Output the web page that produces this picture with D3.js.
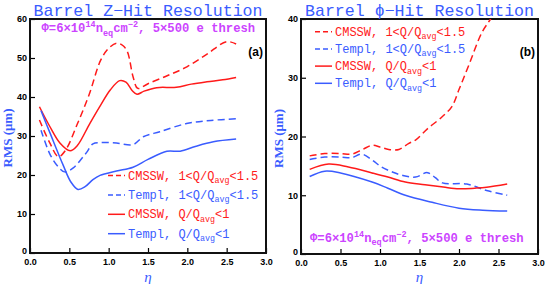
<!DOCTYPE html>
<html>
<head>
<meta charset="utf-8">
<script src="https://cdn.jsdelivr.net/npm/d3@7"></script>
<style>
  body { margin: 0; background: #fff; }
</style>
</head>
<body>
<div id="container"></div>
<script>
// chart size
const width = 545;
const height = 284;

const red = "#ff1a1a";
const blue = "#3a5cff";
const magenta = "#cc44ff";

// Left panel: Z-hit resolution
const etaZ_cmsswHi = [0.12, 0.25, 0.36, 0.45, 0.6, 0.75, 0.9, 1.0, 1.1, 1.18, 1.24, 1.31, 1.37, 1.5, 1.75, 2.0, 2.25, 2.5, 2.62];
const rmsZ_cmsswHi = [34.1, 28.3, 24.7, 26.3, 33, 40.5, 49.5, 52.5, 53.8, 53.2, 51.5, 45.2, 42.2, 43.4, 45.5, 47.8, 51, 54.2, 53.6];
const etaZ_templHi = [0.14, 0.25, 0.35, 0.44, 0.55, 0.64, 0.72, 0.8, 0.9, 1.1, 1.31, 1.44, 1.65, 1.99, 2.3, 2.62];
const rmsZ_templHi = [31.5, 25.5, 22.3, 20.8, 21.8, 23.8, 25.8, 28, 28.3, 28.2, 27.8, 29.8, 31.1, 33.2, 34.0, 34.4];
const etaZ_cmsswLo = [0.12, 0.25, 0.38, 0.51, 0.6, 0.76, 0.9, 1.02, 1.14, 1.22, 1.3, 1.36, 1.45, 1.61, 1.86, 2.05, 2.25, 2.45, 2.62];
const rmsZ_cmsswLo = [37.5, 32.5, 28.2, 26.2, 27.5, 33.2, 38, 41.8, 44.2, 43.8, 41.6, 40.7, 41.5, 42.4, 42.5, 43.3, 43.9, 44.4, 45.0];
const etaZ_templLo = [0.14, 0.25, 0.42, 0.52, 0.61, 0.7, 0.8, 0.89, 1.1, 1.31, 1.5, 1.74, 1.91, 2.1, 2.33, 2.62];
const rmsZ_templLo = [36.5, 31, 22.6, 18.2, 16.3, 17, 18.8, 19.9, 21, 22, 24, 26.1, 26.1, 27.3, 28.5, 29.2];

// Right panel: phi-hit resolution
const etaP_cmsswHi = [0.11, 0.3, 0.5, 0.64, 0.78, 0.9, 1.0, 1.11, 1.24, 1.36, 1.45, 1.6, 1.79, 1.91, 2.0, 2.12, 2.29, 2.4, 2.62];
const rmsP_cmsswHi = [16.7, 17.1, 17.1, 17.0, 17.8, 18.5, 18.2, 17.8, 17.8, 18.8, 19.4, 21.3, 23.4, 25.1, 28, 32, 37.7, 40, 45];
const etaP_templHi = [0.11, 0.3, 0.5, 0.64, 0.77, 0.9, 1.02, 1.15, 1.28, 1.45, 1.6, 1.7, 1.79, 2.1, 2.35, 2.61];
const rmsP_templHi = [16.1, 16.5, 16.5, 16.4, 17.0, 16.0, 14.8, 14.0, 13.4, 13.1, 13.85, 13.0, 12.1, 11.9, 10.8, 10.0];
const etaP_cmsswLo = [0.11, 0.35, 0.6, 0.9, 1.1, 1.32, 1.57, 1.8, 2.0, 2.2, 2.35, 2.61];
const rmsP_cmsswLo = [14.4, 15.3, 14.8, 13.8, 13.1, 12.25, 11.8, 11.4, 11.1, 11.2, 11.35, 11.9];
const etaP_templLo = [0.11, 0.3, 0.5, 0.9, 1.1, 1.32, 1.66, 2.0, 2.3, 2.61];
const rmsP_templLo = [13.2, 14.1, 13.8, 12.25, 11.2, 10.0, 8.8, 7.8, 7.45, 7.3];

const xTicks = [0, 0.5, 1.0, 1.5, 2.0, 2.5, 3.0];
const yTicksZ = [0, 10, 20, 30, 40, 50, 60];
const yTicksP = [0, 10, 20, 30, 40];

const svg = d3.select("#container")
    .append("svg")
    .attr("width", width)
    .attr("height", height);

const mono = "'Liberation Mono', 'DejaVu Sans Mono', monospace";

// writes text with sub/superscripts
function richText(g, parts) {
  parts.forEach(p => {
    const t = g.append("tspan").text(p.t);
    if (p.sub) t.attr("dy", 3.5).attr("font-size", "0.7em");
    if (p.sup) t.attr("dy", -5).attr("font-size", "0.7em");
    if (p.back) t.attr("dy", p.back);
  });
}

function legendParts(name, hi) {
  return hi
    ? [{t: name + ", 1<Q/Q"}, {t: "avg", sub: true}, {t: "<1.5", back: -3.5}]
    : [{t: name + ", Q/Q"}, {t: "avg", sub: true}, {t: "<1", back: -3.5}];
}

const fluence = [{t: "\u03A6=6\u00D710"}, {t: "14", sup: true}, {t: "n", back: 5},
                 {t: "eq", sub: true}, {t: "cm", back: -3.5}, {t: "\u22122", sup: true},
                 {t: ", 5\u00D7500 e thresh", back: 5}];

function panel(cfg) {
  const x = d3.scaleLinear().domain([0, 3]).range([cfg.x0, cfg.x1]);
  const y = d3.scaleLinear().domain([0, cfg.ymax]).range([cfg.y0, cfg.y1]);
  const g = svg.append("g");

  g.append("clipPath").attr("id", cfg.id + "clip")
    .append("rect")
    .attr("x", cfg.x0).attr("y", cfg.y1)
    .attr("width", cfg.x1 - cfg.x0).attr("height", cfg.y0 - cfg.y1);

  // axes (ticks inside)
  const ax = g.append("g").attr("transform", `translate(0,${cfg.y0})`);
  ax.call(d3.axisBottom(x).tickValues(d3.range(0, 3.01, 0.1)).tickSize(-2.5).tickFormat(""));
  ax.call(d3.axisBottom(x).tickValues(xTicks).tickSize(-5).tickPadding(3).tickFormat(d3.format(".1f")));
  const ay = g.append("g").attr("transform", `translate(${cfg.x0},0)`);
  ay.call(d3.axisLeft(y).tickValues(d3.range(0, cfg.ymax + 0.1, 2)).tickSize(-2.5).tickFormat(""));
  ay.call(d3.axisLeft(y).tickValues(cfg.yTicks).tickSize(-5).tickPadding(3));
  g.selectAll(".domain").remove();
  g.selectAll(".tick line").attr("stroke", "#000").attr("stroke-width", 1.2);
  g.selectAll(".tick text")
    .attr("font-family", "'Liberation Sans', Arial, sans-serif")
    .attr("font-weight", "bold").attr("font-size", 9).attr("fill", "#000");
  ax.selectAll(".tick text").attr("dy", "0.95em");
  ay.selectAll(".tick text").filter(d => d === 0).attr("dy", "0.1em");

  g.append("rect")
    .attr("x", cfg.x0).attr("y", cfg.y1)
    .attr("width", cfg.x1 - cfg.x0).attr("height", cfg.y0 - cfg.y1)
    .attr("fill", "none").attr("stroke", "#111").attr("stroke-width", 2);

  // curves
  const line = d3.line().x(d => x(d[0])).y(d => y(d[1])).curve(d3.curveCatmullRom.alpha(0.5));
  cfg.series.forEach(s => {
    g.append("path")
      .datum(d3.zip(s.eta, s.rms))
      .attr("clip-path", `url(#${cfg.id}clip)`)
      .attr("d", line)
      .attr("fill", "none")
      .attr("stroke", s.color)
      .attr("stroke-width", 1.5)
      .attr("stroke-dasharray", s.dash ? "7,4" : null);
  });

  // legend
  cfg.series.forEach((s, i) => {
    const ly = cfg.legY + i * cfg.legStep;
    g.append("line")
      .attr("x1", cfg.legX).attr("x2", cfg.legX + 17)
      .attr("y1", ly).attr("y2", ly)
      .attr("stroke", s.color).attr("stroke-width", 1.5)
      .attr("stroke-dasharray", s.dash ? "5,3" : null);
    const t = g.append("text")
      .attr("x", cfg.legX + 20).attr("y", ly + 4)
      .attr("font-family", mono).attr("font-size", 12)
      .attr("fill", s.color);
    richText(t, legendParts(s.name, s.hi));
  });

  // title
  g.append("text")
    .attr("x", (cfg.x0 + cfg.x1) / 2).attr("y", 15.5)
    .attr("text-anchor", "middle")
    .attr("font-family", mono).attr("font-size", 16.6)
    .attr("fill", blue)
    .text(cfg.title);

  // fluence note
  const note = g.append("text")
    .attr("x", cfg.noteX).attr("y", cfg.noteY)
    .attr("font-family", mono).attr("font-weight", "bold").attr("font-size", 12.2)
    .attr("fill", magenta);
  richText(note, fluence);

  // panel tag
  g.append("text")
    .attr("x", cfg.x1 - 3).attr("y", 56)
    .attr("text-anchor", "end")
    .attr("font-family", "'Liberation Sans', Arial, sans-serif")
    .attr("font-weight", "bold").attr("font-size", 12)
    .text(cfg.tag);

  // axis titles
  g.append("text")
    .attr("transform", `translate(${cfg.x0 - 18},${(cfg.y0 + cfg.y1) / 2 + 2}) rotate(-90)`)
    .attr("text-anchor", "middle")
    .attr("font-family", "'Liberation Serif', serif")
    .attr("font-weight", "bold").attr("font-size", 13)
    .attr("fill", blue)
    .text("RMS (\u03BCm)");
  g.append("text")
    .attr("x", (cfg.x0 + cfg.x1) / 2).attr("y", 282)
    .attr("text-anchor", "middle")
    .attr("font-family", "'Liberation Serif', serif")
    .attr("font-style", "italic").attr("font-size", 15)
    .attr("fill", blue)
    .text("\u03B7");
}

panel({
  id: "z", x0: 30, x1: 266, y0: 253, y1: 19, ymax: 60, yTicks: yTicksZ,
  title: "Barrel Z\u2212Hit Resolution", tag: "(a)",
  noteX: 41.5, noteY: 32,
  legX: 108, legY: 175.5, legStep: 19.4,
  series: [
    {name: "CMSSW", hi: true, color: red, dash: true, eta: etaZ_cmsswHi, rms: rmsZ_cmsswHi},
    {name: "Templ", hi: true, color: blue, dash: true, eta: etaZ_templHi, rms: rmsZ_templHi},
    {name: "CMSSW", hi: false, color: red, dash: false, eta: etaZ_cmsswLo, rms: rmsZ_cmsswLo},
    {name: "Templ", hi: false, color: blue, dash: false, eta: etaZ_templLo, rms: rmsZ_templLo}
  ]
});

panel({
  id: "p", x0: 301, x1: 538, y0: 254, y1: 19, ymax: 40, yTicks: yTicksP,
  title: "Barrel \u03D5\u2212Hit Resolution", tag: "(b)",
  noteX: 310, noteY: 241.5,
  legX: 315, legY: 31.7, legStep: 17.2,
  series: [
    {name: "CMSSW", hi: true, color: red, dash: true, eta: etaP_cmsswHi, rms: rmsP_cmsswHi},
    {name: "Templ", hi: true, color: blue, dash: true, eta: etaP_templHi, rms: rmsP_templHi},
    {name: "CMSSW", hi: false, color: red, dash: false, eta: etaP_cmsswLo, rms: rmsP_cmsswLo},
    {name: "Templ", hi: false, color: blue, dash: false, eta: etaP_templLo, rms: rmsP_templLo}
  ]
});
</script>
</body>
</html>
